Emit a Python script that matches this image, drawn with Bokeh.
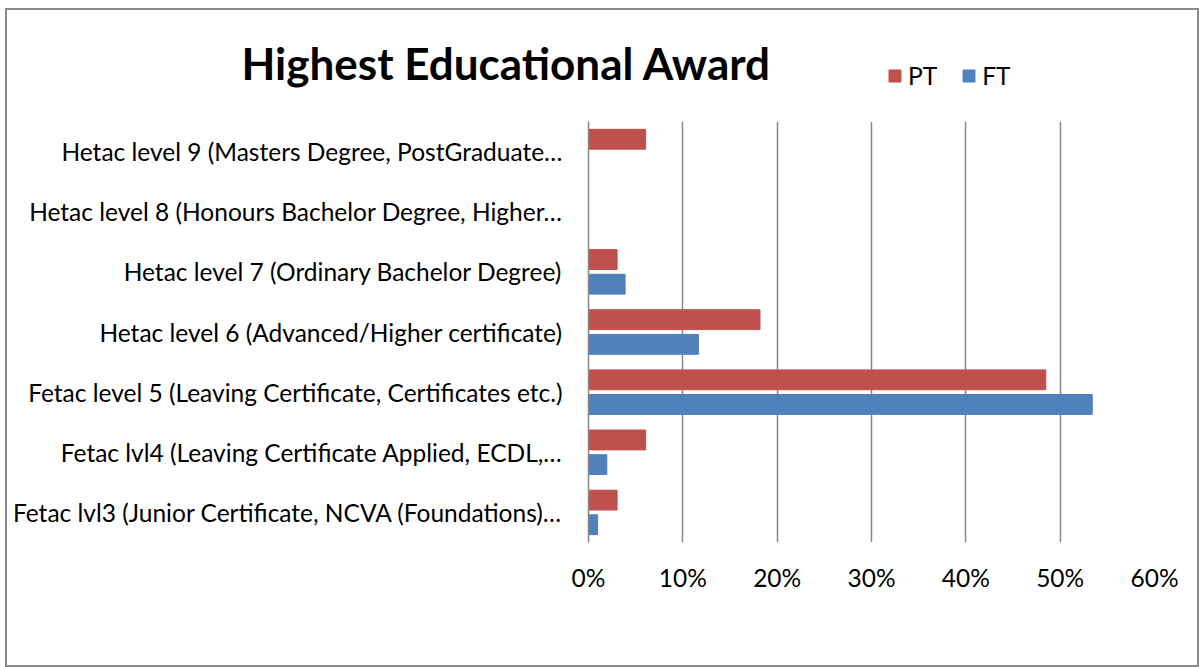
from bokeh.plotting import figure
from bokeh.layouts import column
from bokeh.models import (Range1d, FixedTicker, NumeralTickFormatter, Label, Legend, LegendItem)
from bokeh.embed import file_html
from bokeh.resources import INLINE

# Data (bottom to top in the chart)
categories = [
    "Fetac lvl3 (Junior Certificate, NCVA (Foundations)\u2026",
    "Fetac lvl4 (Leaving Certificate Applied, ECDL,\u2026",
    "Fetac level 5 (Leaving Certificate, Certificates etc.)",
    "Hetac level 6 (Advanced/Higher certificate)",
    "Hetac level 7 (Ordinary Bachelor Degree)",
    "Hetac level 8 (Honours Bachelor Degree, Higher\u2026",
    "Hetac level 9 (Masters Degree, PostGraduate\u2026",
]
pt_values = [0.0303, 0.0606, 0.4848, 0.1818, 0.0303, 0.0, 0.0606]
ft_values = [0.0097, 0.0194, 0.5340, 0.1165, 0.0388, 0.0, 0.0]
x_ticks = [0, 0.1, 0.2, 0.3, 0.4, 0.5, 0.6]
chart_title = "Highest Educational Award"
series_names = ["PT", "FT"]

FONT = "Lato"
LABEL_SIZE = "24.5px"
GRID = "#868686"
PT_COLOR = "#C0504D"
FT_COLOR = "#4F81BD"
W = 1190

idx = list(range(len(categories)))

# ---- header: title + legend ----
hdr = figure(width=W, height=111, output_backend="svg", toolbar_location=None,
             x_range=Range1d(0, W), y_range=Range1d(0, 111),
             x_axis_type=None, y_axis_type=None,
             min_border=0, min_border_left=0, min_border_right=0,
             min_border_top=0, min_border_bottom=0)
hdr.frame_align = False
hdr.outline_line_color = None
hdr.grid.grid_line_color = None
hdr.add_layout(Label(x=499, y=59, text=chart_title, text_font=FONT,
                     text_font_style="bold", text_font_size="44px",
                     text_align="center", text_baseline="middle",
                     text_color="#000000"))
# legend proxies (zero-size, outside the visible range)
d_pt = hdr.hbar(y=[-100], right=[0], left=0, height=1, color=PT_COLOR)
d_ft = hdr.hbar(y=[-100], right=[0], left=0, height=1, color=FT_COLOR)
legend = Legend(items=[LegendItem(label=series_names[0], renderers=[d_pt]),
                       LegendItem(label=series_names[1], renderers=[d_ft])],
                orientation="horizontal", location=(880, 31),
                glyph_width=15, glyph_height=15, label_standoff=6, spacing=24,
                padding=0, margin=0, border_line_color=None,
                background_fill_alpha=0, label_text_font=FONT,
                label_text_font_size=LABEL_SIZE, label_text_color="#000000")
hdr.add_layout(legend, "center")

# ---- main chart ----
p = figure(width=W, height=544, output_backend="svg", toolbar_location=None,
           x_range=Range1d(0, 0.6), y_range=Range1d(-0.5, len(categories) - 0.5),
           min_border_left=581, min_border_right=43, min_border_top=0,
           min_border_bottom=123)
p.frame_align = False
p.outline_line_color = None

p.hbar(y=[i + 0.205 for i in idx], right=pt_values, left=0, height=0.33,
       color=PT_COLOR)
p.hbar(y=[i - 0.205 for i in idx], right=ft_values, left=0, height=0.33,
       color=FT_COLOR)

xa = p.xaxis[0]
xa.ticker = FixedTicker(ticks=x_ticks)
xa.formatter = NumeralTickFormatter(format="0%")
xa.axis_line_color = None
xa.major_tick_line_color = None
xa.minor_tick_line_color = None
xa.major_tick_out = 0
xa.major_tick_in = 0
xa.minor_tick_out = 0
xa.major_label_text_font = FONT
xa.major_label_text_font_size = LABEL_SIZE
xa.major_label_text_color = "#000000"
xa.major_label_standoff = 20

ya = p.yaxis[0]
ya.ticker = FixedTicker(ticks=idx)
ya.major_label_overrides = {i: c for i, c in zip(idx, categories)}
ya.axis_line_color = GRID
ya.axis_line_width = 1.5
ya.major_tick_line_color = None
ya.minor_tick_line_color = None
ya.major_tick_out = 0
ya.major_tick_in = 0
ya.minor_tick_out = 0
ya.major_label_text_font = FONT
ya.major_label_text_font_size = LABEL_SIZE
ya.major_label_text_color = "#000000"
ya.major_label_standoff = 26

p.xgrid.ticker = FixedTicker(ticks=x_ticks)
p.xgrid.grid_line_color = GRID
p.xgrid.grid_line_width = 1.5
p.ygrid.grid_line_color = None

layout = column(hdr, p, spacing=0)
layout.styles = {"border": "2px solid #8a8a8a", "margin-left": "5px",
                 "margin-top": "8px"}

open("out.html", "w").write(file_html(layout, INLINE))
